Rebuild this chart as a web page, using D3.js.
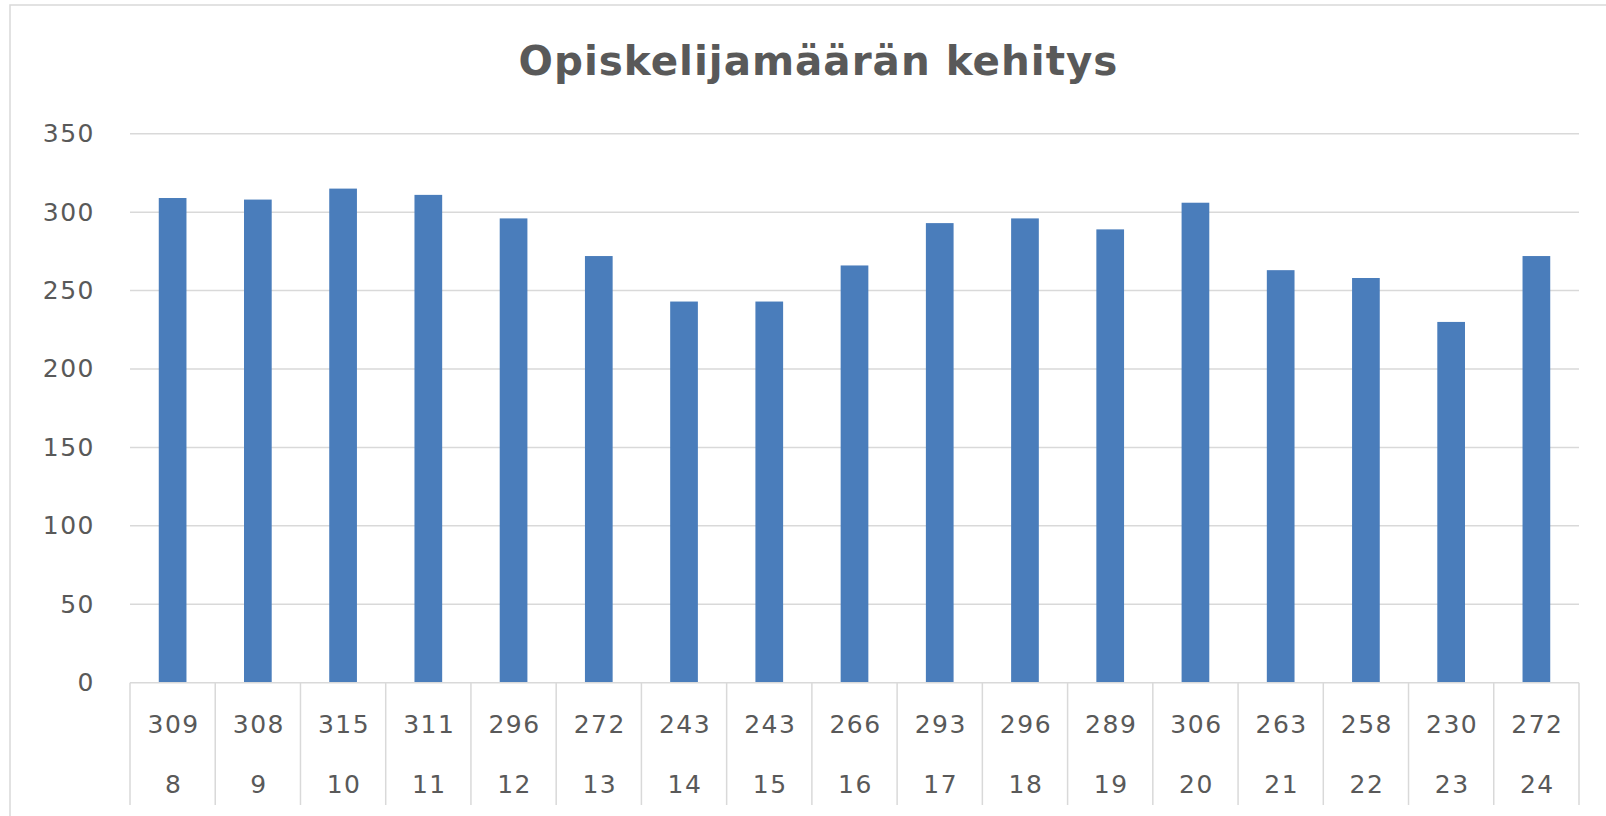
<!DOCTYPE html>
<html>
<head>
<meta charset="utf-8">
<script src="https://cdn.jsdelivr.net/npm/d3@7"></script>
<style>
  body { margin: 0; background: #fff; }
  text { fill: #595959; }
</style>
</head>
<body>
<div id="chart"></div>
<script>
// chart data
var years = ["8", "9", "10", "11", "12", "13", "14", "15", "16", "17", "18", "19", "20", "21", "22", "23", "24"];
var students = [309, 308, 315, 311, 296, 272, 243, 243, 266, 293, 296, 289, 306, 263, 258, 230, 272];
var yTicks = [0, 50, 100, 150, 200, 250, 300, 350];
var title = "Opiskelijamäärän kehitys";

var W = 1606, H = 816;
var plot = {left: 130, right: 1579, top: 133.7, bottom: 682.7};

var svg = d3.select("#chart")
  .append("svg")
    .attr("width", W)
    .attr("height", H);

// chart frame
svg.append("rect")
    .attr("x", 10).attr("y", 5)
    .attr("width", W + 20).attr("height", H + 20)
    .attr("fill", "#fff")
    .attr("stroke", "#d9d9d9")
    .attr("stroke-width", 1.5);

var x = d3.scaleBand()
    .domain(years)
    .range([plot.left, plot.right])
    .paddingInner(0.675)
    .paddingOuter(0.3375);

var cell = d3.scaleBand()
    .domain(years)
    .range([plot.left, plot.right])
    .padding(0);

var y = d3.scaleLinear()
    .domain([0, 350])
    .range([plot.bottom, plot.top]);

// gridlines
svg.append("g")
  .selectAll("line")
  .data(yTicks.filter(function(d) { return d > 0; }))
  .enter().append("line")
    .attr("x1", plot.left).attr("x2", plot.right)
    .attr("y1", function(d) { return y(d); })
    .attr("y2", function(d) { return y(d); })
    .attr("stroke", "#d9d9d9")
    .attr("stroke-width", 1.5);

// y axis labels
var yAxis = svg.append("g")
    .attr("transform", "translate(" + (plot.left - 35) + ",0)")
    .call(d3.axisLeft(y).tickValues(yTicks).tickSize(0).tickPadding(0));
yAxis.select(".domain").remove();
yAxis.selectAll("text")
    .attr("fill", "#595959")
    .style("font-family", "DejaVu Sans")
    .style("font-size", "25px")
    .style("letter-spacing", "1.5px");

// bars
svg.append("g")
  .selectAll("rect")
  .data(students)
  .enter().append("rect")
    .attr("x", function(d, i) { return x(years[i]); })
    .attr("y", function(d) { return y(d); })
    .attr("width", x.bandwidth())
    .attr("height", function(d) { return y(0) - y(d); })
    .attr("fill", "#4a7dbb");

// axis baseline
svg.append("line")
    .attr("x1", plot.left).attr("x2", plot.right)
    .attr("y1", y(0)).attr("y2", y(0))
    .attr("stroke", "#d9d9d9")
    .attr("stroke-width", 1.5);

// category table below axis
var table = svg.append("g");
var edges = years.map(function(d) { return cell(d); }).concat([plot.right]);
table.selectAll("line")
  .data(edges)
  .enter().append("line")
    .attr("x1", function(d) { return d; })
    .attr("x2", function(d) { return d; })
    .attr("y1", y(0))
    .attr("y2", 805)
    .attr("stroke", "#d9d9d9")
    .attr("stroke-width", 1.5);

table.selectAll("text.val")
  .data(students)
  .enter().append("text")
    .attr("class", "val")
    .attr("x", function(d, i) { return cell(years[i]) + cell.bandwidth() / 2 + 1; })
    .attr("y", 733)
    .attr("text-anchor", "middle")
    .style("font-family", "DejaVu Sans")
    .style("font-size", "25px")
    .style("letter-spacing", "1.5px")
    .text(function(d) { return d; });

table.selectAll("text.yr")
  .data(years)
  .enter().append("text")
    .attr("class", "yr")
    .attr("x", function(d) { return cell(d) + cell.bandwidth() / 2 + 1; })
    .attr("y", 793)
    .attr("text-anchor", "middle")
    .style("font-family", "DejaVu Sans")
    .style("font-size", "25px")
    .style("letter-spacing", "1.5px")
    .text(function(d) { return d; });

// title, sized to span the same width as the original
var t = svg.append("text")
    .attr("x", 818.5)
    .attr("y", 75)
    .attr("text-anchor", "middle")
    .style("font-family", "DejaVu Sans")
    .style("font-weight", "700")
    .style("font-size", "36px")
    .style("letter-spacing", "1px")
    .text(title);
var natural = t.node().getComputedTextLength();
t.style("font-size", (36 * 603 / natural) + "px");
</script>
</body>
</html>
